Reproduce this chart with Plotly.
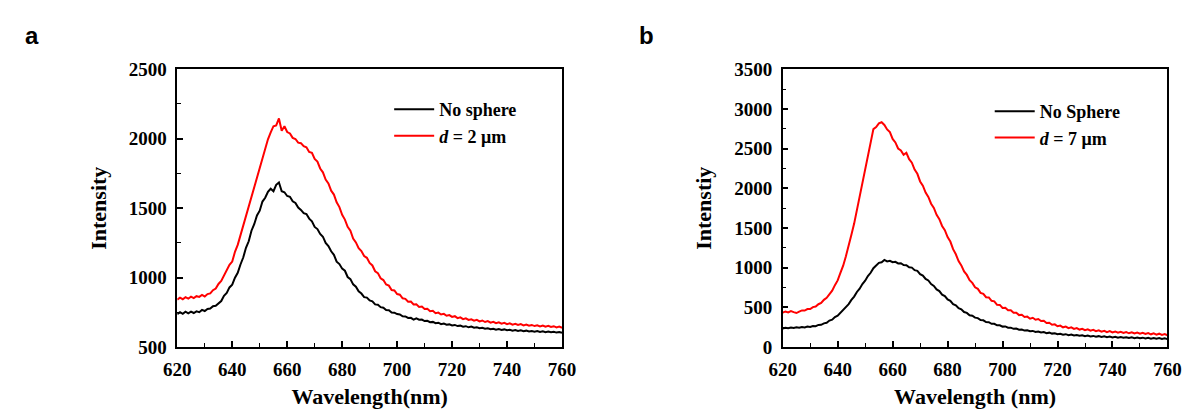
import plotly.graph_objects as go

wavelength = list(range(620, 761))

a_no_sphere = [
    738, 752, 740, 755, 744, 756, 746, 758, 752, 768,
    760, 775, 778, 795, 798, 818, 832, 870, 890, 930,
    950, 1000, 1035, 1095, 1145, 1215, 1262, 1338, 1385, 1448,
    1482, 1548, 1575, 1618, 1640, 1622, 1668, 1685, 1622, 1615,
    1588, 1582, 1550, 1538, 1505, 1488, 1465, 1458, 1425, 1405,
    1365, 1350, 1315, 1295, 1250, 1228, 1190, 1165, 1115, 1098,
    1065, 1050, 1005, 990, 952, 935, 902, 886, 860, 857,
    836, 830, 808, 805, 788, 784, 768, 766, 750, 748,
    738, 735, 722, 721, 710, 711, 698, 708, 698, 699,
    688, 690, 680, 682, 673, 676, 666, 670, 662, 664,
    656, 660, 652, 655, 648, 651, 643, 648, 640, 643,
    637, 640, 633, 636, 629, 633, 626, 630, 624, 628,
    622, 625, 619, 623, 617, 621, 615, 619, 613, 617,
    612, 616, 610, 614, 608, 612, 607, 611, 605, 609, 604,
]

a_d2 = [
    842, 856, 845, 860, 849, 864, 853, 867, 862, 876,
    865, 882, 887, 910, 922, 955, 976, 1016, 1046, 1092,
    1116, 1186, 1236, 1306, 1366, 1446, 1506, 1586, 1646, 1726,
    1786, 1866, 1926, 1996, 2046, 2090, 2096, 2146, 2058, 2090,
    2048, 2038, 2006, 1998, 1972, 1968, 1946, 1938, 1905, 1898,
    1855, 1836, 1786, 1758, 1706, 1678, 1626, 1598, 1542, 1508,
    1452, 1418, 1366, 1338, 1282, 1254, 1212, 1192, 1156, 1143,
    1106, 1088, 1046, 1033, 996, 983, 951, 943, 911, 908,
    882, 878, 852, 848, 827, 828, 807, 808, 790, 793,
    775, 777, 759, 762, 745, 749, 735, 740, 726, 731,
    718, 723, 709, 715, 702, 708, 696, 701, 691, 697,
    686, 692, 681, 688, 677, 683, 673, 679, 669, 675,
    665, 672, 662, 668, 660, 666, 657, 663, 654, 660,
    652, 658, 650, 656, 647, 653, 645, 651, 642, 648, 640,
]

b_no_sphere = [
    236, 245, 238, 248, 241, 250, 244, 253, 249, 259,
    255, 266, 265, 280, 282, 300, 307, 335, 347, 380,
    397, 435, 462, 510, 542, 595, 637, 695, 737, 795,
    837, 895, 937, 995, 1027, 1062, 1070, 1098, 1080, 1088,
    1070, 1075, 1055, 1058, 1035, 1032, 1005, 1002, 970, 962,
    920, 902, 860, 840, 795, 772, 727, 707, 662, 644,
    602, 584, 542, 527, 490, 477, 442, 432, 402, 396,
    372, 366, 342, 338, 317, 314, 295, 294, 275, 276,
    259, 261, 245, 246, 231, 234, 219, 223, 209, 213,
    200, 205, 192, 197, 185, 190, 177, 183, 171, 176,
    164, 170, 158, 164, 152, 159, 147, 154, 143, 150,
    139, 146, 135, 142, 132, 139, 128, 136, 125, 133,
    123, 131, 120, 128, 118, 126, 116, 124, 114, 122,
    112, 120, 110, 118, 108, 116, 106, 114, 104, 112, 102,
]

b_d7 = [
    436, 450, 438, 455, 442, 430, 448, 463, 461, 480,
    481, 505, 511, 541, 556, 596, 621, 671, 711, 781,
    841, 936, 1026, 1146, 1266, 1416, 1556, 1726, 1886, 2066,
    2226, 2406, 2576, 2746, 2772, 2818, 2832, 2798, 2742, 2708,
    2622, 2578, 2502, 2478, 2422, 2448, 2367, 2323, 2237, 2183,
    2087, 2033, 1947, 1893, 1807, 1753, 1667, 1613, 1527, 1473,
    1387, 1330, 1234, 1170, 1084, 1030, 954, 910, 844, 810,
    754, 735, 684, 672, 629, 627, 584, 577, 534, 532,
    494, 495, 464, 465, 434, 435, 404, 408, 380, 385,
    359, 370, 346, 355, 329, 332, 304, 308, 282, 288,
    264, 272, 250, 260, 239, 250, 230, 240, 222, 232,
    214, 225, 208, 219, 202, 213, 196, 207, 190, 202,
    186, 198, 182, 194, 179, 191, 175, 188, 172, 184,
    169, 181, 166, 178, 162, 174, 158, 170, 154, 164, 150,
]

x_ticks = [620, 640, 660, 680, 700, 720, 740, 760]
a_y_ticks = [500, 1000, 1500, 2000, 2500]
b_y_ticks = [0, 500, 1000, 1500, 2000, 2500, 3000, 3500]

SERIF = "Liberation Serif"

# The page body adds an 8 px margin, so the figure is sized to fit the window
# and screen positions are converted to paper fractions of the figure.
W, H, OFF = 1192, 409, 8


def px(x):
    return (x - OFF) / W


def py(y):
    return 1 - (y - OFF) / H


fig = go.Figure()
fig.add_trace(go.Scatter(x=wavelength, y=a_no_sphere, mode="lines", name="<b>No sphere</b>",
                         line=dict(color="black", width=2), xaxis="x", yaxis="y", legend="legend"))
fig.add_trace(go.Scatter(x=wavelength, y=a_d2, mode="lines", name="<b><i>d</i> = 2 μm</b>",
                         line=dict(color="#ff0000", width=2), xaxis="x", yaxis="y", legend="legend"))
fig.add_trace(go.Scatter(x=wavelength, y=b_no_sphere, mode="lines", name="<b>No Sphere</b>",
                         line=dict(color="black", width=2), xaxis="x2", yaxis="y2", legend="legend2"))
fig.add_trace(go.Scatter(x=wavelength, y=b_d7, mode="lines", name="<b><i>d</i> = 7 μm</b>",
                         line=dict(color="#ff0000", width=2), xaxis="x2", yaxis="y2", legend="legend2"))

tickfont = dict(family=SERIF, size=19, color="black", weight="bold")
titlefont = dict(family=SERIF, size=22, color="black")


def xaxis(domain, anchor, title):
    return dict(domain=domain, anchor=anchor, range=[620, 760], tickvals=x_ticks,
                ticks="inside", ticklen=6, tickwidth=1.5, tickcolor="black",
                minor=dict(dtick=10, ticks="inside", ticklen=4, tickwidth=1.2, tickcolor="black"),
                showline=True, linecolor="black", linewidth=1.5, mirror=True,
                showgrid=False, zeroline=False, tickfont=tickfont,
                ticklabelstandoff=4,
                title=dict(text="<b>" + title + "</b>", font=titlefont, standoff=10))


def yaxis(domain, anchor, rng, ticks, title):
    return dict(domain=domain, anchor=anchor, range=rng, tickvals=ticks,
                ticks="inside", ticklen=6, tickwidth=1.5, tickcolor="black",
                minor=dict(dtick=250, ticks="inside", ticklen=4, tickwidth=1.2, tickcolor="black"),
                showline=True, linecolor="black", linewidth=1.5, mirror=True,
                showgrid=False, zeroline=False, tickfont=tickfont,
                ticklabelstandoff=5,
                title=dict(text="<b>" + title + "</b>", font=titlefont, standoff=16))


yd = [py(355), py(62)]

legend_common = dict(font=dict(family=SERIF, size=18, color="black"), bgcolor="rgba(0,0,0,0)",
                     xanchor="left", yanchor="top", tracegroupgap=0, itemwidth=40)

fig.update_layout(
    width=W, height=H,
    margin=dict(l=0, r=0, t=0, b=0),
    paper_bgcolor="white", plot_bgcolor="white",
    xaxis=xaxis([px(167), px(561)], "y", "Wavelength(nm)"),
    yaxis=yaxis(yd, "x", [500, 2500], a_y_ticks, "Intensity"),
    xaxis2=xaxis([px(787), px(1181)], "y2", "Wavelength (nm)"),
    yaxis2=yaxis(yd, "x2", [0, 3500], b_y_ticks, "Intenstiy"),
    legend=dict(x=px(384), y=py(85), **legend_common),
    legend2=dict(x=px(999), y=py(87), **legend_common),
    annotations=[
        dict(text="<b>a</b>", x=px(18), y=py(26), xref="paper", yref="paper",
             showarrow=False, xanchor="center", yanchor="middle",
             font=dict(family="Liberation Sans", size=24, color="black")),
        dict(text="<b>b</b>", x=px(648), y=py(26), xref="paper", yref="paper",
             showarrow=False, xanchor="center", yanchor="middle",
             font=dict(family="Liberation Sans", size=24, color="black")),
    ],
    showlegend=True,
)

fig.write_html("out.html")
